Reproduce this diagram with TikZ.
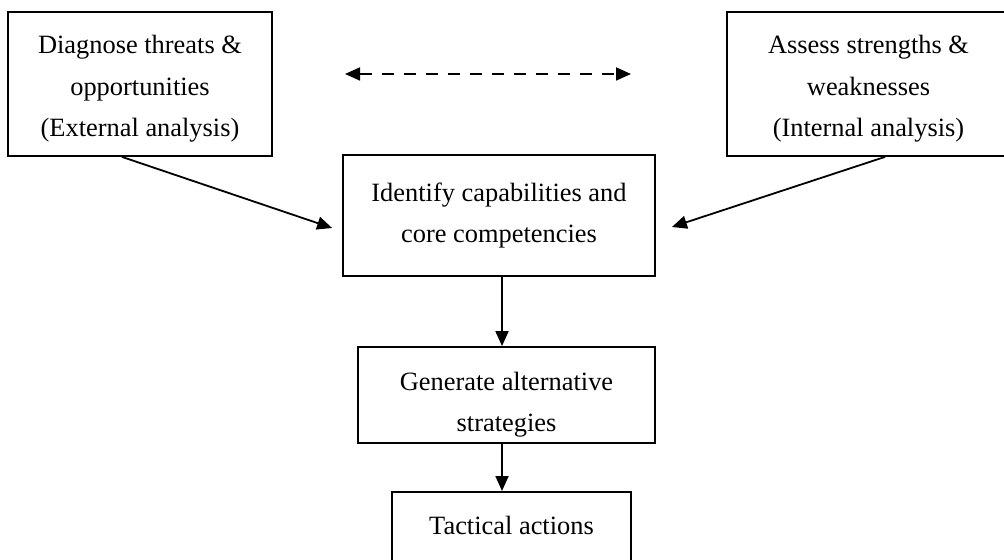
\documentclass[tikz,border=0pt]{standalone}
\usepackage{fontspec}
\setmainfont{Liberation Serif}
\usepackage{tikz}
\usetikzlibrary{calc}
\usetikzlibrary{arrows.meta}

\newcommand{\topdrop}[1]{\rule{0pt}{#1}}

\begin{document}
\begin{tikzpicture} [x=0.5pt,y=-0.5pt,
  box/.style={draw,line width=0.9pt,align=center,inner sep=0pt,font=\fontsize{13.2}{20.75}\selectfont},
  arr/.style={line width=0.9pt,-{Triangle[length=7.5pt,width=6.5pt]}}]

\useasboundingbox (0,0) rectangle (1004,560);

\node[box,minimum width=132pt,minimum height=72pt] (ext) at (140,84) {\topdrop{14pt}Diagnose threats \&\\opportunities\\(External analysis)};
\node[box,minimum width=141.5pt,minimum height=72pt] (int) at (868.5,84) {\topdrop{14pt}Assess strengths \&\\weaknesses\\(Internal analysis)};
\node[box,minimum width=156pt,minimum height=60.5pt] (idc) at (499,215.5) {Identify capabilities and\\core competencies};
\node[box,minimum width=148.5pt,minimum height=48pt] (gen) at (506.5,395) {\topdrop{19pt}Generate alternative\\strategies};
\node[box,minimum width=119.5pt,inner ysep=12pt,text depth=18pt,anchor=north] (tac) at (511.5,491) {Tactical actions};

\coordinate (dl) at (345,74);
\coordinate (dr) at (631,74);
\coordinate (axis) at (502,0);

\draw[arr,{Triangle[length=7.5pt,width=6.5pt]}-{Triangle[length=7.5pt,width=6.5pt]},dash pattern=on 6pt off 5pt] (dl)--(dr);

\draw[arr] ($(ext.south)+(-18,0)$)--($(idc.west)+(-10,12.5)$);
\draw[arr] ($(int.south)+(16.5,0)$)--($(idc.east)+(16,11.5)$);

\draw[arr] (idc.south -| axis)--(gen.north -| axis);
\draw[arr] (gen.south -| axis)--(tac.north -| axis);

\end{tikzpicture}
\end{document}
